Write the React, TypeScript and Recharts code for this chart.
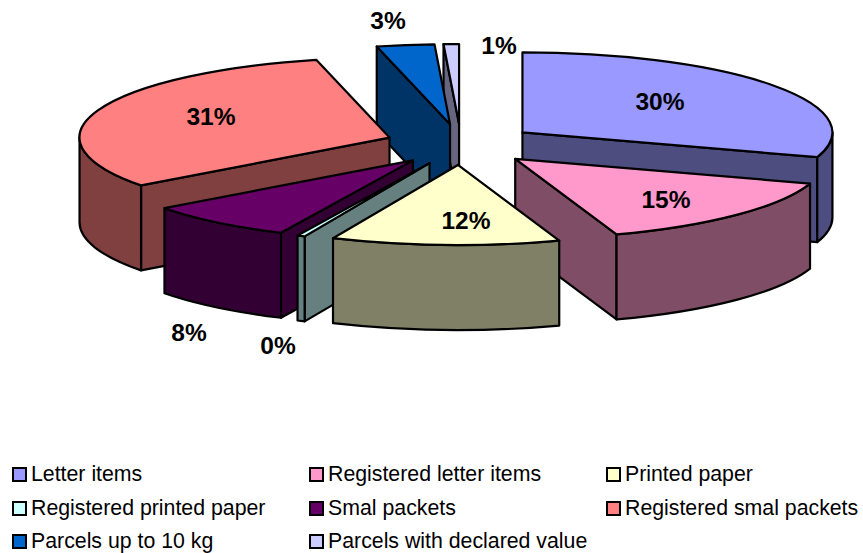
import React from "react";
import { PieChart, Pie, Legend } from "recharts";

// Shares of postal items by category, in percent.
const categories = [
  "Letter items",
  "Registered letter items",
  "Printed paper",
  "Registered printed paper",
  "Smal packets",
  "Registered smal packets",
  "Parcels up to 10 kg",
  "Parcels with declared value",
];
const shares = [30, 14.7, 11.9, 0.4, 7.8, 31.4, 3, 0.8];
const topColors = ["#9999FF", "#FF99CC", "#FFFFCC", "#CCFFFF", "#660066", "#FF8080", "#0066CC", "#CCCCFF"];
const sideColors = ["#4D4D80", "#804D66", "#808066", "#668080", "#330033", "#804040", "#003366", "#666680"];

const rows = categories.map((name, i) => ({ name, value: shares[i], fill: topColors[i], side: sideColors[i] }));

// Slices are painted from the back of the tilted pie towards the front.
const paintOrder = [7, 6, 0, 5, 1, 4, 3, 2];

const WIDTH = 863;
const HEIGHT = 553;
const CX = 461;
const CY = 144.5;
const RADIUS = 310;
const TILT = 80 / 310;
const DEPTH = 85;
const EXPLODE_X = 0.245;
const EXPLODE_Y = 0.256;

// Hand-placed percentage labels, by slice index.
const labelSpots: [number, number][] = [
  [660, 101],
  [666, 199],
  [466, 220],
  [278, 345],
  [189, 332],
  [211, 116],
  [388, 20],
  [499, 45],
];

const rad = (d: number) => (d * Math.PI) / 180;

function Slice3D(props: any) {
  const { cx, cy, outerRadius: r, startAngle, endAngle, midAngle, payload } = props;
  // Recharts angles run counter-clockwise from 3 o'clock; convert to clockwise from 12.
  const a0 = 90 - startAngle;
  const a1 = 90 - endAngle;
  const mid = 90 - midAngle;
  const ox = cx + EXPLODE_X * r * Math.sin(rad(mid));
  const oy = cy - EXPLODE_Y * r * TILT * Math.cos(rad(mid));
  const pt = (deg: number, drop = 0) => [
    ox + r * Math.sin(rad(deg)),
    oy - r * TILT * Math.cos(rad(deg)) + drop,
  ];
  const ry = r * TILT;
  const [sx, sy] = pt(a0);
  const [ex, ey] = pt(a1);
  const common = { stroke: "#000", strokeWidth: 2.2, strokeLinejoin: "round" as const };

  const walls: React.ReactNode[] = [];
  if (Math.sin(rad(a0)) < 0) {
    walls.push(
      <path
        key="start"
        {...common}
        fill={payload.side}
        d={`M${ox},${oy}L${sx},${sy}L${sx},${sy + DEPTH}L${ox},${oy + DEPTH}Z`}
      />
    );
  }
  if (Math.sin(rad(a1)) > 0) {
    walls.push(
      <path
        key="end"
        {...common}
        fill={payload.side}
        d={`M${ox},${oy}L${ex},${ey}L${ex},${ey + DEPTH}L${ox},${oy + DEPTH}Z`}
      />
    );
  }
  const w0 = Math.max(a0, 90);
  const w1 = Math.min(a1, 270);
  if (w1 > w0) {
    const [ax, ay] = pt(w0);
    const [bx, by] = pt(w1);
    walls.push(
      <path
        key="rim"
        {...common}
        fill={payload.side}
        d={`M${ax},${ay}A${r},${ry} 0 0 1 ${bx},${by}L${bx},${by + DEPTH}A${r},${ry} 0 0 0 ${ax},${ay + DEPTH}Z`}
      />
    );
  }
  return (
    <g>
      {walls}
      <path
        {...common}
        fill={payload.fill}
        d={`M${ox},${oy}L${sx},${sy}A${r},${ry} 0 ${a1 - a0 > 180 ? 1 : 0} 1 ${ex},${ey}Z`}
      />
    </g>
  );
}

const sliceShape = (only: number) => (props: any) =>
  props.index === only ? <Slice3D {...props} /> : <g />;

function PercentLabel(props: any) {
  const [x, y] = labelSpots[props.index];
  return (
    <text
      x={x}
      y={y}
      textAnchor="middle"
      dominantBaseline="central"
      fontFamily="'Liberation Sans', Arial, sans-serif"
      fontWeight={700}
      fontSize={24.5}
      fill="#000"
    >
      {`${Math.round(props.percent * 100)}%`}
    </text>
  );
}

function LegendGrid() {
  return (
    <div
      style={{
        display: "grid",
        gridTemplateColumns: "297px 297px 260px",
        gridAutoRows: "33.5px",
        fontFamily: "'Liberation Sans', Arial, sans-serif",
        fontSize: 21.3,
        color: "#000",
        whiteSpace: "nowrap",
      }}
    >
      {rows.map((row) => (
        <div key={row.name} style={{ display: "flex", alignItems: "center", height: 33.5 }}>
          <span
            style={{
              display: "inline-block",
              width: 11,
              height: 11,
              border: "2px solid #000",
              background: row.fill,
              marginRight: 4,
              flex: "none",
            }}
          />
          {row.name}
        </div>
      ))}
    </div>
  );
}

export default function App() {
  return (
    <div style={{ position: "absolute", left: 0, top: 0, width: WIDTH, height: HEIGHT, background: "#fff" }}>
      <PieChart width={WIDTH} height={HEIGHT} margin={{ top: 0, right: 0, bottom: 0, left: 0 }}>
        {paintOrder.map((slice) => (
          <Pie
            key={slice}
            data={rows}
            dataKey="value"
            nameKey="name"
            cx={CX}
            cy={CY}
            innerRadius={0}
            outerRadius={RADIUS}
            startAngle={90}
            endAngle={-270}
            stroke="none"
            legendType="none"
            isAnimationActive={false}
            shape={sliceShape(slice)}
            rootTabIndex={-1}
          />
        ))}
        <Pie
          data={rows}
          dataKey="value"
          cx={CX}
          cy={CY}
          outerRadius={RADIUS}
          startAngle={90}
          endAngle={-270}
          legendType="none"
          isAnimationActive={false}
          shape={() => <g />}
          label={PercentLabel}
          labelLine={false}
          rootTabIndex={-1}
        />
        <Legend
          content={LegendGrid}
          layout="horizontal"
          verticalAlign="bottom"
          align="left"
          wrapperStyle={{ left: 12, top: 458, bottom: "auto", width: 850, height: 95 }}
        />
      </PieChart>
    </div>
  );
}
